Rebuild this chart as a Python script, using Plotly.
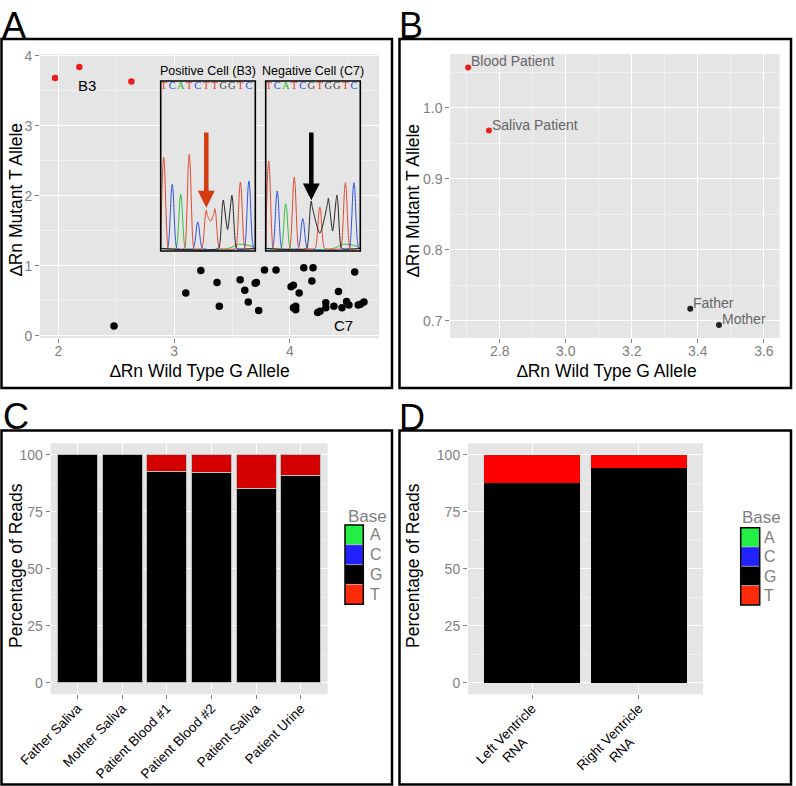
import plotly.graph_objects as go

W, H = 796, 786
FONT = "Liberation Sans, Arial, sans-serif"
GREY_TXT = "#7F7F7F"
PANEL_BG = "#E5E5E5"

# ---------------- Panel A data ----------------
a_pos_x = [1.97, 2.18, 2.63]
a_pos_y = [3.68, 3.84, 3.63]
a_neg_x = [2.48, 3.10, 3.23, 3.37, 3.39, 3.57, 3.61, 3.64, 3.70, 3.71, 3.73, 3.78, 3.88,
           4.01, 4.03, 4.03, 4.05, 4.05, 4.08, 4.12, 4.20, 4.19, 4.24, 4.26, 4.31, 4.31,
           4.38, 4.42, 4.45, 4.49, 4.51, 4.56, 4.59, 4.61, 4.64]
a_neg_y = [0.14, 0.61, 0.93, 0.76, 0.42, 0.80, 0.65, 0.48, 0.75, 0.76, 0.36, 0.94, 0.94,
           0.70, 0.72, 0.40, 0.42, 0.37, 0.61, 0.97, 0.97, 0.78, 0.33, 0.35, 0.47, 0.40,
           0.42, 0.63, 0.40, 0.49, 0.44, 0.91, 0.44, 0.45, 0.48]
a_labels = ["B3", "C7"]
a_label_x = [2.25, 4.46]
a_label_y = [3.57, 0.15]

# inset chromatograms
seq_pos = "TCATCTTGGTC"
seq_neg = "TCATCGTGGTC"
pos_heights = [55.3, 39.2, 33.3, 56.9, 17.1, 23.9, 24.9, 30.0, 32.7, 40.6, 41.2]
neg_heights = [52.9, 35.3, 27.8, 43.5, 19.0, 29.4, 25.9, 31.0, 32.9, 40.2, 40.2]
pos_troughs = {(5, 6): 17.6, (7, 8): 12.7}
neg_troughs = {(5, 7): 10.5, (7, 8): 11.8}
baseline = 1.5
green_bump_x = [7.6, 8.8, 10.2]
green_bump_y = [1.5, 4.0, 3.0]
# peak outline (offset in base units, fraction of peak height)
peak_dx = [-0.58, -0.4, -0.24, -0.11, 0.0, 0.11, 0.24, 0.4, 0.58]
peak_frac = [0.0, 0.12, 0.5, 0.88, 1.0, 0.88, 0.5, 0.12, 0.0]
arrow_index = 5
pos_arrow = (25.5, 70.6)
neg_arrow = (29.8, 70.6)

# ---------------- Panel B data ----------------
b_names = ["Blood Patient", "Saliva Patient", "Father", "Mother"]
b_x = [2.704, 2.767, 3.377, 3.464]
b_y = [1.057, 0.968, 0.717, 0.694]
b_mutant = [True, True, False, False]

# ---------------- Panel C / D data ----------------
c_cats = ["Father Saliva", "Mother Saliva", "Patient Blood #1", "Patient Blood #2",
          "Patient Saliva", "Patient Urine"]
c_G = [100, 100, 92.6, 92.4, 85.2, 91.0]
c_T = [0, 0, 7.4, 7.6, 14.8, 9.0]
d_cats = ["Left Ventricle RNA", "Right Ventricle RNA"]
d_G = [87.6, 94.1]
d_T = [12.4, 5.9]
bases = ["A", "C", "G", "T"]
base_colors = {"A": "#22EE44", "C": "#2222FF", "G": "#000000", "T": "#FF2A0A"}
y_ticks_pct = [0, 25, 50, 75, 100]

# chromatogram / letter colours
trace_colors = {"A": "#2EBE3A", "C": "#3050E0", "G": "#222222", "T": "#E2472E"}
letter_colors = {"A": "#2AB02A", "C": "#2A4ADA", "G": "#444444", "T": "#E03A2A"}


def px(xp):
    return xp / W


def py(yp):
    return 1 - yp / H


fig = go.Figure()

# ---- Panel A scatter
fig.add_trace(go.Scatter(x=a_neg_x, y=a_neg_y, mode="markers", xaxis="x", yaxis="y",
                         marker=dict(color="black", size=7.5), showlegend=False))
fig.add_trace(go.Scatter(x=a_pos_x, y=a_pos_y, mode="markers", xaxis="x", yaxis="y",
                         marker=dict(color="#EE1C1C", size=6.5), showlegend=False))


def chrom_line(seq, heights, troughs, base):
    xs, ys = [-0.35], [baseline]
    idx = [i for i, b in enumerate(seq) if b == base]
    for k, i in enumerate(idx):
        prev = idx[k - 1] if k > 0 else None
        nxt = idx[k + 1] if k + 1 < len(idx) else None
        join_prev = prev is not None and (prev, i) in troughs
        join_next = nxt is not None and (i, nxt) in troughs
        if join_prev:
            xs.append((prev + i) / 2)
            ys.append(troughs[(prev, i)])
        for dx, fr in zip(peak_dx, peak_frac):
            if join_prev and dx < -0.2:
                continue
            if join_next and dx > 0.2:
                continue
            xs.append(i + dx)
            ys.append(baseline + (heights[i] - baseline) * fr)
    if base == "A":
        for bx, by in zip(green_bump_x, green_bump_y):
            xs.append(bx)
            ys.append(by)
    xs.append(10.75)
    ys.append(baseline)
    order = sorted(range(len(xs)), key=lambda j: xs[j])
    return [xs[j] for j in order], [ys[j] for j in order]


insets = [("x5", "y5", seq_pos, pos_heights, pos_troughs, "Positive Cell (B3)", "#D63A10", pos_arrow),
          ("x6", "y6", seq_neg, neg_heights, neg_troughs, "Negative Cell (C7)", "#000000", neg_arrow)]

annotations = []
shapes = []

for xa, ya, seq, hts, trs, title, acol, arr in insets:
    for b in ["A", "C", "T", "G"]:
        xs, ys = chrom_line(seq, hts, trs, b)
        fig.add_trace(go.Scatter(x=xs, y=ys, mode="lines", xaxis=xa, yaxis=ya,
                                 line=dict(color=trace_colors[b], width=1, shape="spline", smoothing=0.7),
                                 showlegend=False, hoverinfo="skip", cliponaxis=True))
    fig.add_trace(go.Scatter(x=list(range(len(seq))), y=[96.6] * len(seq), mode="text",
                             text=list(seq), xaxis=xa, yaxis=ya,
                             textfont=dict(family="Liberation Serif, serif", size=10.5,
                                           color=[letter_colors[c] for c in seq]),
                             showlegend=False, hoverinfo="skip"))
    shapes.append(dict(type="rect", xref=xa + " domain", yref=ya + " domain", x0=0, x1=1, y0=0, y1=1,
                       fillcolor="white", line=dict(width=0), layer="below"))
    shapes.append(dict(type="rect", xref=xa + " domain", yref=ya, x0=0, x1=1, y0=93.1, y1=100,
                       fillcolor="#F3F3F3", line=dict(width=0), layer="below"))
    shapes.append(dict(type="line", xref=xa + " domain", yref=ya, x0=0, x1=1, y0=93.1, y1=93.1,
                       line=dict(color="#B0B0B0", width=1), layer="below"))
    shapes.append(dict(type="rect", xref=xa + " domain", yref=ya + " domain", x0=0, x1=1, y0=0, y1=1,
                       line=dict(color="black", width=1.6), layer="above"))
    annotations.append(dict(xref=xa + " domain", yref=ya + " domain", x=0.5, y=1, yanchor="bottom",
                            yshift=1, text=title, showarrow=False,
                            font=dict(family=FONT, size=12.5, color="black")))
    annotations.append(dict(xref=xa, yref=ya, x=arrow_index, y=arr[0], axref=xa, ayref=ya,
                            ax=arrow_index, ay=arr[1], showarrow=True, arrowhead=2, arrowsize=0.75,
                            arrowwidth=4.5, arrowcolor=acol, standoff=0, text=""))

# ---- Panel B scatter
for mut in [False, True]:
    sel = [i for i, m in enumerate(b_mutant) if m == mut]
    fig.add_trace(go.Scatter(x=[b_x[i] for i in sel], y=[b_y[i] for i in sel], mode="markers",
                             xaxis="x2", yaxis="y2",
                             marker=dict(color="#E82020" if mut else "#222222", size=6),
                             showlegend=False))
for n, xv, yv in zip(b_names, b_x, b_y):
    annotations.append(dict(xref="x2", yref="y2", x=xv, y=yv, text=n, showarrow=False,
                            xanchor="left", yanchor="bottom", xshift=1, yshift=-4,
                            font=dict(family=FONT, size=14, color="#666666")))

# ---- Panel C / D bars
fig.add_trace(go.Bar(x=c_cats, y=c_G, xaxis="x3", yaxis="y3", marker=dict(color="#000000",
                     line=dict(color="#BDBDBD", width=1)), showlegend=False))
fig.add_trace(go.Bar(x=c_cats, y=c_T, xaxis="x3", yaxis="y3", marker=dict(color="#D40000",
                     line=dict(color="#BDBDBD", width=1)), showlegend=False))
fig.add_trace(go.Bar(x=d_cats, y=d_G, xaxis="x4", yaxis="y4", marker=dict(color="#000000",
                     line=dict(width=0)), showlegend=False))
fig.add_trace(go.Bar(x=d_cats, y=d_T, xaxis="x4", yaxis="y4", marker=dict(color="#FF0000",
                     line=dict(width=0)), showlegend=False))

# labels in panel A
for t, xv, yv in zip(a_labels, a_label_x, a_label_y):
    annotations.append(dict(xref="x", yref="y", x=xv, y=yv, text=t, showarrow=False,
                            font=dict(family=FONT, size=15, color="black")))

# ---- Axis definitions
tickfont = dict(family=FONT, size=14, color=GREY_TXT)
common = dict(showline=False, zeroline=False, gridcolor="white", gridwidth=1, ticks="outside",
              ticklen=4, tickcolor=GREY_TXT, tickwidth=1, tickfont=tickfont, automargin=False)
xcommon = dict(common, ticklabelstandoff=-4)
minor = lambda d: dict(dtick=d, showgrid=True, gridcolor="#F0F0F0", gridwidth=0.6, ticks="")

A_dom_x = [px(40), px(379)]
A_dom_y = [py(338), py(54)]
B_dom_x = [px(450.3), px(779.7)]
C_dom_x = [px(50.7), px(327.7)]
D_dom_x = [px(468), px(703)]
CD_dom_y = [py(694.3), py(443.3)]

d_ticktext = []
for c in d_cats:
    first, second = c.rsplit(" ", 1)
    d_ticktext.append(first + "<br>" + second + "\u00a0" * 8)

hidden = dict(visible=False, automargin=False)
cat_tickfont = dict(family=FONT, size=13.5, color="black")

fig.update_layout(
    template="none",
    width=W, height=H, autosize=False, margin=dict(l=0, r=0, t=0, b=0, pad=0),
    paper_bgcolor="white", plot_bgcolor=PANEL_BG, barmode="stack", bargap=0.1,
    font=dict(family=FONT), showlegend=False,
    xaxis=dict(domain=A_dom_x, range=[1.84, 4.77], tick0=0, dtick=1, anchor="y", minor=minor(0.5), **xcommon),
    yaxis=dict(domain=A_dom_y, range=[-0.033, 4.024], tick0=0, dtick=1, anchor="x", minor=minor(0.5), **common),
    xaxis2=dict(domain=B_dom_x, range=[2.65, 3.648], tick0=0, dtick=0.2, tickformat=".1f", anchor="y2",
                minor=minor(0.1), **xcommon),
    yaxis2=dict(domain=A_dom_y, range=[0.6756, 1.076], tick0=0, dtick=0.1, tickformat=".1f", anchor="x2",
                minor=minor(0.05), **common),
    xaxis3=dict(domain=C_dom_x, range=[-0.6, 5.6], anchor="y3", tickangle=-45,
                **{**xcommon, "tickfont": cat_tickfont}),
    yaxis3=dict(domain=CD_dom_y, range=[-5, 105], tickvals=y_ticks_pct, anchor="x3", minor=minor(12.5), **common),
    xaxis4=dict(domain=D_dom_x, range=[-0.6, 1.6], anchor="y4", tickangle=-45, tickmode="array",
                tickvals=d_cats, ticktext=d_ticktext,
                **{**xcommon, "tickfont": cat_tickfont}),
    yaxis4=dict(domain=CD_dom_y, range=[-5, 105], tickvals=y_ticks_pct, anchor="x4", minor=minor(12.5), **common),
    xaxis5=dict(domain=[px(160.7), px(255.3)], range=[-0.35, 10.75], anchor="y5", **hidden),
    yaxis5=dict(domain=[py(251), py(81)], range=[0, 100], anchor="x5", **hidden),
    xaxis6=dict(domain=[px(265.7), px(360.3)], range=[-0.35, 10.75], anchor="y6", **hidden),
    yaxis6=dict(domain=[py(251), py(81)], range=[0, 100], anchor="x6", **hidden),
)

# ---- Panel borders
for x0, y0, x1, y1 in [(1.5, 39, 392, 388), (399.5, 39, 791, 388),
                       (1.5, 430.5, 392, 784.5), (399.5, 430.5, 791, 784.5)]:
    shapes.append(dict(type="rect", xref="paper", yref="paper", x0=px(x0), x1=px(x1),
                       y0=py(y1), y1=py(y0), line=dict(color="black", width=2.5), layer="above"))

# ---- Panel letters
for lab, xl, yc in [("A", 0, 25), ("B", 397, 25), ("C", 1, 416.5), ("D", 397, 417.5)]:
    annotations.append(dict(xref="paper", yref="paper", x=px(xl), y=py(yc), xanchor="left",
                            yanchor="middle", text=lab, showarrow=False,
                            font=dict(family=FONT, size=36, color="black")))

# ---- Axis titles
titles = [("\u2206Rn Wild Type G Allele", 200, 370.5, 0),
          ("\u2206Rn Mutant T Allele", 16, 200, -90),
          ("\u2206Rn Wild Type G Allele", 607, 371, 0),
          ("\u2206Rn Mutant T Allele", 413, 201, -90),
          ("Percentage of Reads", 16, 566, -90),
          ("Percentage of Reads", 413, 566, -90)]
for t, xc, yc, ang in titles:
    annotations.append(dict(xref="paper", yref="paper", x=px(xc), y=py(yc), text=t, showarrow=False,
                            textangle=ang, xanchor="center", yanchor="middle", borderpad=0,
                            font=dict(family=FONT, size=17.5, color="black")))

# ---- Manual "Base" legends
for kx0, kx1, ky0, ky1, lab_x, title_x, title_y in [(345, 363.3, 525, 604.3, 368, 346, 516.7),
                                                    (740.7, 759.7, 527.7, 605, 761.5, 739.7, 517.7)]:
    step = (ky1 - ky0) / len(bases)
    for i, b in enumerate(bases):
        shapes.append(dict(type="rect", xref="paper", yref="paper", x0=px(kx0), x1=px(kx1),
                           y0=py(ky0 + (i + 1) * step), y1=py(ky0 + i * step),
                           fillcolor=base_colors[b], line=dict(color="#CCCCCC", width=0.5)))
        annotations.append(dict(xref="paper", yref="paper", x=px(lab_x), y=py(ky0 + (i + 0.5) * step),
                                xanchor="left", yanchor="middle", text=b, showarrow=False,
                                font=dict(family=FONT, size=16, color=GREY_TXT)))
    shapes.append(dict(type="rect", xref="paper", yref="paper", x0=px(kx0), x1=px(kx1),
                       y0=py(ky1), y1=py(ky0), line=dict(color="black", width=1.5)))
    annotations.append(dict(xref="paper", yref="paper", x=px(title_x), y=py(title_y),
                            xanchor="left", yanchor="middle", text="Base", showarrow=False,
                            font=dict(family=FONT, size=17, color=GREY_TXT)))

fig.update_layout(shapes=shapes, annotations=annotations)
fig.write_html("out.html", config={"displayModeBar": False},
               post_script="document.body.style.margin='0';document.body.style.padding='0';"
                           "document.body.style.overflow='hidden';")
